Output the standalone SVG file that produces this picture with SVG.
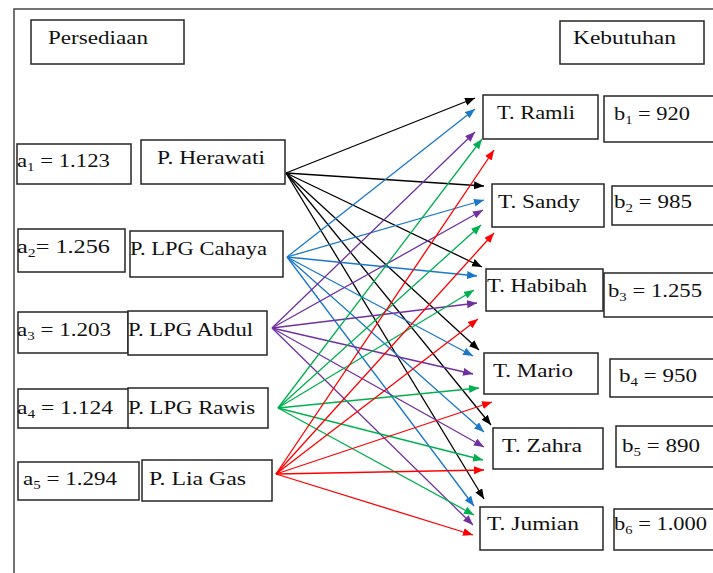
<svg xmlns="http://www.w3.org/2000/svg" width="713" height="573" viewBox="0 0 713 573">
<style>
.box{fill:#fff;stroke:#262626;stroke-width:1.5}
.t{font-family:"Liberation Serif","Times New Roman",serif;font-size:18.5px;fill:#111}
.sub{font-size:12px}
.k{stroke:#000;stroke-width:1.3;fill:none;marker-end:url(#mk)}
.b{stroke:#1a78c8;stroke-width:1.3;fill:none;marker-end:url(#mb)}
.p{stroke:#7030a0;stroke-width:1.3;fill:none;marker-end:url(#mp)}
.g{stroke:#00b050;stroke-width:1.3;fill:none;marker-end:url(#mg)}
.r{stroke:#ff0000;stroke-width:1.3;fill:none;marker-end:url(#mr)}
</style>
<defs>
<marker id="mk" markerUnits="userSpaceOnUse" markerWidth="11" markerHeight="9" refX="10" refY="4" orient="auto"><path d="M0,0 L10,4 L0,8 z" fill="#000"/></marker>
<marker id="mb" markerUnits="userSpaceOnUse" markerWidth="11" markerHeight="9" refX="10" refY="4" orient="auto"><path d="M0,0 L10,4 L0,8 z" fill="#1a78c8"/></marker>
<marker id="mp" markerUnits="userSpaceOnUse" markerWidth="11" markerHeight="9" refX="10" refY="4" orient="auto"><path d="M0,0 L10,4 L0,8 z" fill="#7030a0"/></marker>
<marker id="mg" markerUnits="userSpaceOnUse" markerWidth="11" markerHeight="9" refX="10" refY="4" orient="auto"><path d="M0,0 L10,4 L0,8 z" fill="#00b050"/></marker>
<marker id="mr" markerUnits="userSpaceOnUse" markerWidth="11" markerHeight="9" refX="10" refY="4" orient="auto"><path d="M0,0 L10,4 L0,8 z" fill="#ff0000"/></marker>
</defs>
<rect width="713" height="573" fill="#fff"/>
<g id="frame" stroke="#444" stroke-width="1.5" fill="none">
<path d="M14,573 L14,9 L713,9"/>
</g>

<g id="connectors">
<!-- Herawati (black) -->
<line class="k" x1="286" y1="173" x2="475" y2="98"/>
<line class="k" x1="286" y1="173" x2="484" y2="186"/>
<line class="k" x1="286" y1="173" x2="482" y2="267"/>
<line class="k" x1="286" y1="173" x2="479" y2="350"/>
<line class="k" x1="286" y1="173" x2="491" y2="425"/>
<line class="k" x1="286" y1="173" x2="484" y2="499"/>
<!-- Cahaya (blue) -->
<line class="b" x1="287" y1="257" x2="475" y2="109"/>
<line class="b" x1="287" y1="257" x2="484" y2="200"/>
<line class="b" x1="287" y1="257" x2="477" y2="276"/>
<line class="b" x1="287" y1="257" x2="473" y2="356"/>
<line class="b" x1="287" y1="257" x2="484" y2="432"/>
<line class="b" x1="287" y1="257" x2="474" y2="506"/>
<!-- Abdul (purple) -->
<line class="p" x1="272" y1="328" x2="475" y2="132"/>
<line class="p" x1="272" y1="328" x2="483" y2="210"/>
<line class="p" x1="272" y1="328" x2="477" y2="303"/>
<line class="p" x1="272" y1="328" x2="473" y2="374"/>
<line class="p" x1="272" y1="328" x2="484" y2="447"/>
<line class="p" x1="272" y1="328" x2="473" y2="525"/>
<!-- Rawis (green) -->
<line class="g" x1="278" y1="408" x2="482" y2="139"/>
<line class="g" x1="278" y1="408" x2="481" y2="225"/>
<line class="g" x1="278" y1="408" x2="474" y2="290"/>
<line class="g" x1="278" y1="408" x2="479" y2="388"/>
<line class="g" x1="278" y1="408" x2="483" y2="460"/>
<line class="g" x1="278" y1="408" x2="474" y2="515"/>
<!-- Lia Gas (red) -->
<line class="r" x1="276" y1="474" x2="494" y2="150"/>
<line class="r" x1="276" y1="474" x2="494" y2="233"/>
<line class="r" x1="276" y1="474" x2="478" y2="319"/>
<line class="r" x1="276" y1="474" x2="492" y2="402"/>
<line class="r" x1="276" y1="474" x2="484" y2="470"/>
<line class="r" x1="276" y1="474" x2="473" y2="535"/>
</g>

<g id="persediaan">
<rect class="box" x="31" y="20" width="153" height="44"/>
<text class="t" x="48" y="44" textLength="100" lengthAdjust="spacingAndGlyphs">Persediaan</text>
</g>
<g id="kebutuhan">
<rect class="box" x="560" y="21" width="144" height="43"/>
<text class="t" x="573" y="44" textLength="103" lengthAdjust="spacingAndGlyphs">Kebutuhan</text>
</g>

<g id="a1">
<rect class="box" x="17" y="144" width="114" height="40"/>
<text class="t" x="17" y="167" textLength="93" lengthAdjust="spacingAndGlyphs">a<tspan class="sub" dy="4">1</tspan><tspan dy="-4"> = 1.123</tspan></text>
</g>
<g id="herawati">
<rect class="box" x="141" y="140" width="144" height="44"/>
<text class="t" x="157" y="164" textLength="108" lengthAdjust="spacingAndGlyphs">P. Herawati</text>
</g>
<g id="a2">
<rect class="box" x="18" y="229" width="107" height="43"/>
<text class="t" x="17" y="253" textLength="93" lengthAdjust="spacingAndGlyphs">a<tspan class="sub" dy="4">2</tspan><tspan dy="-4">= 1.256</tspan></text>
</g>
<g id="cahaya">
<rect class="box" x="130" y="231" width="153" height="46"/>
<text class="t" x="130" y="255" textLength="137" lengthAdjust="spacingAndGlyphs">P. LPG Cahaya</text>
</g>
<g id="a3">
<rect class="box" x="18" y="312" width="110" height="41"/>
<text class="t" x="17" y="336" textLength="94" lengthAdjust="spacingAndGlyphs">a<tspan class="sub" dy="4">3</tspan><tspan dy="-4"> = 1.203</tspan></text>
</g>
<g id="abdul">
<rect class="box" x="128" y="311" width="139" height="44"/>
<text class="t" x="128" y="336" textLength="125" lengthAdjust="spacingAndGlyphs">P. LPG Abdul</text>
</g>
<g id="a4">
<rect class="box" x="18" y="389" width="111" height="39"/>
<text class="t" x="17" y="414" textLength="96" lengthAdjust="spacingAndGlyphs">a<tspan class="sub" dy="4">4</tspan><tspan dy="-4"> = 1.124</tspan></text>
</g>
<g id="rawis">
<rect class="box" x="128" y="388" width="140" height="40"/>
<text class="t" x="128" y="414" textLength="127" lengthAdjust="spacingAndGlyphs">P. LPG Rawis</text>
</g>
<g id="a5">
<rect class="box" x="18" y="462" width="121" height="38"/>
<text class="t" x="23" y="485" textLength="94" lengthAdjust="spacingAndGlyphs">a<tspan class="sub" dy="4">5</tspan><tspan dy="-4"> = 1.294</tspan></text>
</g>
<g id="liagas">
<rect class="box" x="142" y="460" width="130" height="41"/>
<text class="t" x="149" y="485" textLength="97" lengthAdjust="spacingAndGlyphs">P. Lia Gas</text>
</g>

<g id="ramli">
<rect class="box" x="483" y="95" width="115" height="44"/>
<text class="t" x="497" y="119" textLength="78" lengthAdjust="spacingAndGlyphs">T. Ramli</text>
</g>
<g id="b1">
<rect class="box" x="604" y="96" width="115" height="46"/>
<text class="t" x="614" y="120" textLength="76" lengthAdjust="spacingAndGlyphs">b<tspan class="sub" dy="4">1</tspan><tspan dy="-4"> = 920</tspan></text>
</g>
<g id="sandy">
<rect class="box" x="492" y="184" width="112" height="43"/>
<text class="t" x="498" y="208" textLength="82" lengthAdjust="spacingAndGlyphs">T. Sandy</text>
</g>
<g id="b2">
<rect class="box" x="612" y="186" width="107" height="39"/>
<text class="t" x="614" y="208" textLength="78" lengthAdjust="spacingAndGlyphs">b<tspan class="sub" dy="4">2</tspan><tspan dy="-4"> = 985</tspan></text>
</g>
<g id="habibah">
<rect class="box" x="486" y="269" width="117" height="42"/>
<text class="t" x="487" y="292" textLength="100" lengthAdjust="spacingAndGlyphs">T. Habibah</text>
</g>
<g id="b3">
<rect class="box" x="604" y="273" width="115" height="44"/>
<text class="t" x="608" y="297" textLength="94" lengthAdjust="spacingAndGlyphs">b<tspan class="sub" dy="4">3</tspan><tspan dy="-4"> = 1.255</tspan></text>
</g>
<g id="mario">
<rect class="box" x="484" y="353" width="114" height="41"/>
<text class="t" x="493" y="377" textLength="80" lengthAdjust="spacingAndGlyphs">T. Mario</text>
</g>
<g id="b4">
<rect class="box" x="610" y="359" width="109" height="38"/>
<text class="t" x="619" y="382" textLength="78" lengthAdjust="spacingAndGlyphs">b<tspan class="sub" dy="4">4</tspan><tspan dy="-4"> = 950</tspan></text>
</g>
<g id="zahra">
<rect class="box" x="493" y="428" width="110" height="41"/>
<text class="t" x="502" y="452" textLength="80" lengthAdjust="spacingAndGlyphs">T. Zahra</text>
</g>
<g id="b5">
<rect class="box" x="616" y="426" width="103" height="41"/>
<text class="t" x="622" y="452" textLength="78" lengthAdjust="spacingAndGlyphs">b<tspan class="sub" dy="4">5</tspan><tspan dy="-4"> = 890</tspan></text>
</g>
<g id="jumian">
<rect class="box" x="480" y="507" width="123" height="43"/>
<text class="t" x="487" y="530" textLength="92" lengthAdjust="spacingAndGlyphs">T. Jumian</text>
</g>
<g id="b6">
<rect class="box" x="614" y="509" width="105" height="41"/>
<text class="t" x="614" y="530" textLength="93" lengthAdjust="spacingAndGlyphs">b<tspan class="sub" dy="4">6</tspan><tspan dy="-4"> = 1.000</tspan></text>
</g>
</svg>
